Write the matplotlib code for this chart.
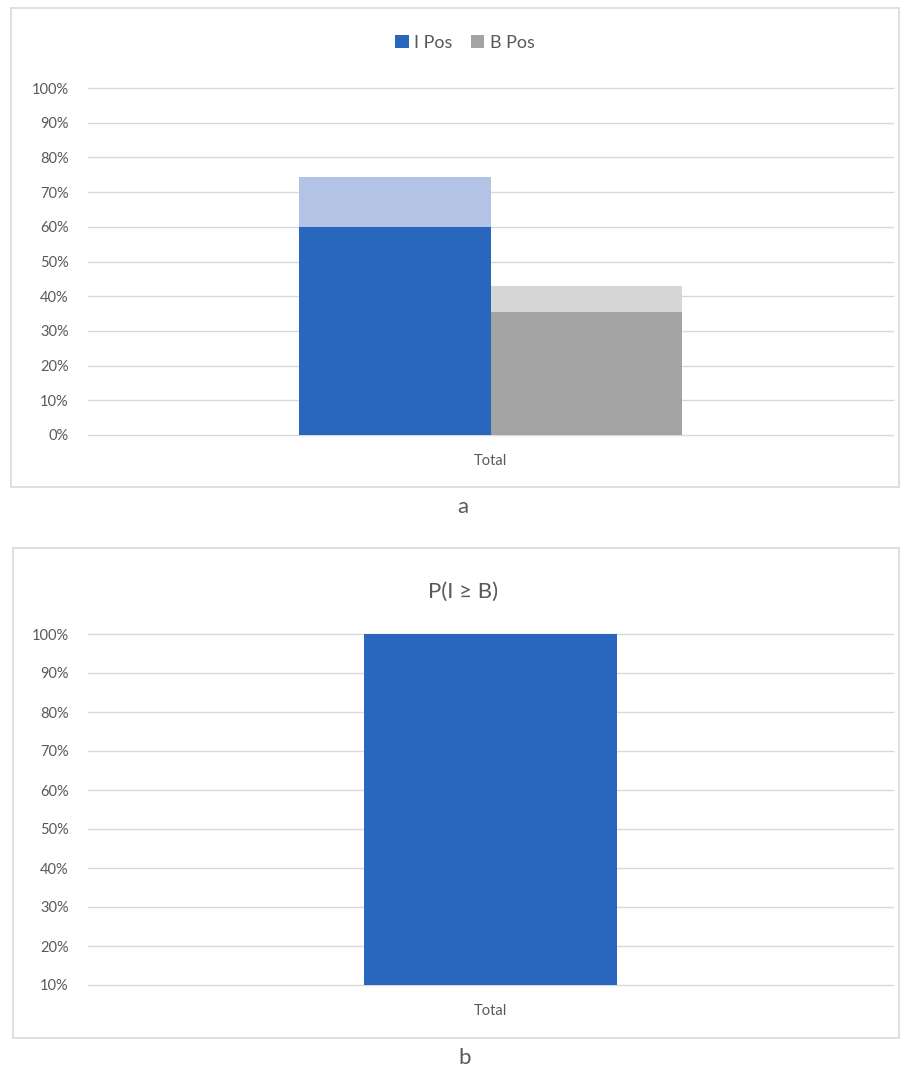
import matplotlib
matplotlib.use("Agg")
import matplotlib.pyplot as plt
from matplotlib.patches import Rectangle
from matplotlib.ticker import FuncFormatter

# ---- data ----
categories = ["Total"]
series_names = ["I Pos", "B Pos"]
i_pos_low = [60.0]
i_pos_high = [74.3]
b_pos_low = [35.5]
b_pos_high = [42.8]
p_i_ge_b = [100.0]
ticks_a = [0, 10, 20, 30, 40, 50, 60, 70, 80, 90, 100]
ticks_b = [10, 20, 30, 40, 50, 60, 70, 80, 90, 100]

plt.rcParams['font.family'] = ['Lato', 'DejaVu Sans']

W, H = 901, 1070
fig = plt.figure(figsize=(W / 100, H / 100), dpi=100)

BLUE = "#2967BE"
LBLUE = "#B3C3E5"
GRAY = "#A3A3A3"
LGRAY = "#D6D6D6"
GRID = "#D9D9D9"
TXT = "#595959"

def fx(px):
    return px / W

def fy(py):
    return 1 - py / H

# panel boxes
for (x0, y0, x1, y1) in [(11, 8, 899, 487), (13, 548, 899, 1038)]:
    fig.patches.append(Rectangle((fx(x0), fy(y1)), fx(x1 - x0), (y1 - y0) / H,
                                 transform=fig.transFigure, fill=False,
                                 edgecolor=GRID, linewidth=1.2))

pct = FuncFormatter(lambda v, p: f"{v:.0f}%")

def style(ax, ticks):
    ax.set_yticks(ticks)
    ax.yaxis.set_major_formatter(pct)
    ax.grid(axis='y', color=GRID, linewidth=1.0)
    ax.set_axisbelow(True)
    for s in ax.spines.values():
        s.set_visible(False)
    ax.tick_params(axis='y', length=0, labelsize=10.5, labelcolor=TXT, pad=14)
    ax.tick_params(axis='x', length=0, labelsize=10.5, labelcolor=TXT, pad=14)
    ax.set_xlim(-1, 1)
    for gl in ax.get_ygridlines():
        gl.set_clip_on(False)

# ---- panel a ----
axa = fig.add_axes([fx(88), fy(435), fx(893 - 88), (435 - 88) / H])
x = list(range(len(categories)))
bw = 0.477
xi = [v - bw / 2 for v in x]
xb = [v + bw / 2 for v in x]
axa.bar(xi, i_pos_low, width=bw, color=BLUE, label=series_names[0], zorder=3)
axa.bar(xi, [h - l for h, l in zip(i_pos_high, i_pos_low)], bottom=i_pos_low,
        width=bw, color=LBLUE, zorder=3)
axa.bar(xb, b_pos_low, width=bw, color=GRAY, label=series_names[1], zorder=3)
axa.bar(xb, [h - l for h, l in zip(b_pos_high, b_pos_low)], bottom=b_pos_low,
        width=bw, color=LGRAY, zorder=3)
axa.set_ylim(0, 100)
style(axa, ticks_a)
axa.set_xticks(x)
axa.set_xticklabels(categories)
axa.legend(loc='center', bbox_to_anchor=(fx(465), fy(43)),
           bbox_transform=fig.transFigure, ncol=2, frameon=False,
           fontsize=13, labelcolor=TXT, handlelength=0.75, handleheight=0.75,
           handletextpad=0.3, columnspacing=1.0)
fig.text(fx(463), fy(507), "a", ha='center', va='center', fontsize=16, color=TXT)

# ---- panel b ----
axb = fig.add_axes([fx(88), fy(985), fx(893 - 88), (985 - 634) / H])
axb.bar(x, [v - ticks_b[0] for v in p_i_ge_b], bottom=ticks_b[0], width=0.629,
        color=BLUE, zorder=3)
axb.set_ylim(ticks_b[0], 100)
style(axb, ticks_b)
axb.set_xticks(x)
axb.set_xticklabels(categories)
fig.text(fx(463), fy(592), "P(I \u2265 B)", ha='center', va='center', fontsize=16, color=TXT)
fig.text(fx(465), fy(1058), "b", ha='center', va='center', fontsize=16, color=TXT)

fig.savefig("out.png", dpi=100)
